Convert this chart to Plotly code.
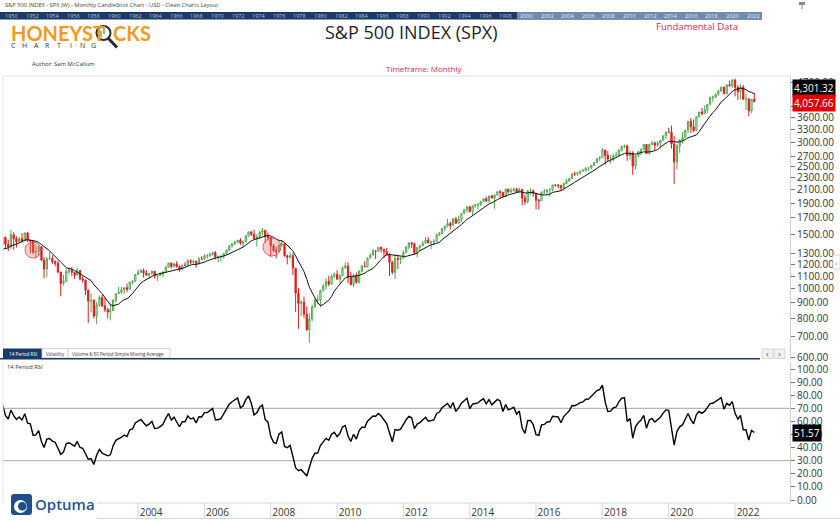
import pandas as pd
import plotly.graph_objects as go

W, H = 840, 522

# S&P 500 monthly closes, Jan 1997 - Aug 2022 (the months before Dec 1999 only warm up the MA / RSI)
close = [
    786.16, 790.82, 757.12, 801.34, 848.28, 885.14, 954.29, 899.47, 947.28, 914.62, 955.40, 970.43,  # 1997
    980.28, 1049.34, 1101.75, 1111.75, 1090.82, 1133.84, 1120.67, 957.28, 1017.01, 1098.67, 1163.63, 1229.23,  # 1998
    1279.64, 1238.33, 1286.37, 1335.18, 1301.84, 1372.71, 1328.72, 1320.41, 1282.71, 1362.93, 1388.91, 1469.25,  # 1999
    1394.46, 1366.42, 1498.58, 1452.43, 1420.60, 1454.60, 1430.83, 1517.68, 1436.51, 1429.40, 1314.95, 1320.28,  # 2000
    1366.01, 1239.94, 1160.33, 1249.46, 1255.82, 1224.42, 1211.23, 1133.58, 1040.94, 1059.78, 1139.45, 1148.08,  # 2001
    1130.20, 1106.73, 1147.39, 1076.92, 1067.14, 989.82, 911.62, 916.07, 815.28, 885.76, 936.31, 879.82,  # 2002
    855.70, 841.15, 848.18, 916.92, 963.59, 974.50, 990.31, 1008.01, 995.97, 1050.71, 1058.20, 1111.92,  # 2003
    1131.13, 1144.94, 1126.21, 1107.30, 1120.68, 1140.84, 1101.72, 1104.24, 1114.58, 1130.20, 1173.82, 1211.92,  # 2004
    1181.27, 1203.60, 1180.59, 1156.85, 1191.50, 1191.33, 1234.18, 1220.33, 1228.81, 1207.01, 1249.48, 1248.29,  # 2005
    1280.08, 1280.66, 1294.87, 1310.61, 1270.09, 1270.20, 1276.66, 1303.82, 1335.85, 1377.94, 1400.63, 1418.30,  # 2006
    1438.24, 1406.82, 1420.86, 1482.37, 1530.62, 1503.35, 1455.27, 1473.99, 1526.75, 1549.38, 1481.14, 1468.36,  # 2007
    1378.55, 1330.63, 1322.70, 1385.59, 1400.38, 1280.00, 1267.38, 1282.83, 1166.36, 968.75, 896.24, 903.25,  # 2008
    825.88, 735.09, 797.87, 872.81, 919.14, 919.32, 987.48, 1020.62, 1057.08, 1036.19, 1095.63, 1115.10,  # 2009
    1073.87, 1104.49, 1169.43, 1186.69, 1089.41, 1030.71, 1101.60, 1049.33, 1141.20, 1183.26, 1180.55, 1257.64,  # 2010
    1286.12, 1327.22, 1325.83, 1363.61, 1345.20, 1320.64, 1292.28, 1218.89, 1131.42, 1253.30, 1246.96, 1257.60,  # 2011
    1312.41, 1365.68, 1408.47, 1397.91, 1310.33, 1362.16, 1379.32, 1406.58, 1440.67, 1412.16, 1416.18, 1426.19,  # 2012
    1498.11, 1514.68, 1569.19, 1597.57, 1630.74, 1606.28, 1685.73, 1632.97, 1681.55, 1756.54, 1805.81, 1848.36,  # 2013
    1782.59, 1859.45, 1872.34, 1883.95, 1923.57, 1960.23, 1930.67, 2003.37, 1972.29, 2018.05, 2067.56, 2058.90,  # 2014
    1994.99, 2104.50, 2067.89, 2085.51, 2107.39, 2063.11, 2103.84, 1972.18, 1920.03, 2079.36, 2080.41, 2043.94,  # 2015
    1940.24, 1932.23, 2059.74, 2065.30, 2096.95, 2098.86, 2173.60, 2170.95, 2168.27, 2126.15, 2198.81, 2238.83,  # 2016
    2278.87, 2363.64, 2362.72, 2384.20, 2411.80, 2423.41, 2470.30, 2471.65, 2519.36, 2575.26, 2647.58, 2673.61,  # 2017
    2823.81, 2713.83, 2640.87, 2648.05, 2705.27, 2718.37, 2816.29, 2901.52, 2913.98, 2711.74, 2760.17, 2506.85,  # 2018
    2704.10, 2784.49, 2834.40, 2945.83, 2752.06, 2941.76, 2980.38, 2926.46, 2976.74, 3037.56, 3140.98, 3230.78,  # 2019
    3225.52, 2954.22, 2584.59, 2912.43, 3044.31, 3100.29, 3271.12, 3500.31, 3363.00, 3269.96, 3621.63, 3756.07,  # 2020
    3714.24, 3811.15, 3972.89, 4181.17, 4204.11, 4297.50, 4395.26, 4522.68, 4307.54, 4605.38, 4567.00, 4766.18,  # 2021
    4515.55, 4373.94, 4530.41, 4131.93, 4132.15, 3785.38, 4130.29, 4057.66,  # 2022
]

# monthly highs and lows, Dec 1999 - Aug 2022
high = [
    1473,
    1478, 1444, 1553, 1527, 1481, 1474, 1517, 1525, 1530, 1437, 1432, 1389,
    1384, 1376, 1267, 1269, 1316, 1287, 1237, 1234, 1134, 1110, 1163, 1175,
    1176, 1131, 1173, 1148, 1097, 1070, 993, 966, 925, 907, 952, 954,
    935, 865, 896, 926, 965, 1015, 1015, 1012, 1040, 1054, 1063, 1112,
    1156, 1159, 1163, 1150, 1128, 1146, 1141, 1110, 1132, 1143, 1188, 1217,
    1217, 1212, 1229, 1192, 1199, 1219, 1245, 1246, 1243, 1233, 1270, 1276,
    1295, 1297, 1310, 1318, 1326, 1284, 1281, 1306, 1340, 1389, 1407, 1432,
    1441, 1461, 1438, 1498, 1535, 1541, 1556, 1504, 1539, 1576, 1553, 1524,
    1471, 1396, 1366, 1397, 1440, 1405, 1292, 1314, 1305, 1167, 1007, 918,
    943, 876, 832, 888, 930, 956, 993, 1040, 1081, 1101, 1113, 1130,
    1150, 1112, 1181, 1220, 1219, 1132, 1121, 1129, 1149, 1196, 1228, 1263,
    1303, 1345, 1333, 1366, 1371, 1346, 1357, 1308, 1230, 1294, 1292, 1270,
    1334, 1378, 1419, 1422, 1415, 1363, 1392, 1427, 1475, 1471, 1434, 1448,
    1509, 1530, 1570, 1598, 1688, 1654, 1698, 1710, 1730, 1766, 1813, 1849,
    1851, 1867, 1884, 1897, 1924, 1968, 1992, 2005, 2019, 2019, 2076, 2094,
    2064, 2120, 2118, 2126, 2135, 2130, 2133, 2113, 2021, 2094, 2116, 2105,
    2045, 1962, 2073, 2111, 2100, 2121, 2178, 2194, 2188, 2169, 2214, 2278,
    2301, 2371, 2401, 2398, 2418, 2454, 2484, 2491, 2520, 2582, 2658, 2695,
    2873, 2835, 2801, 2718, 2742, 2791, 2848, 2917, 2941, 2940, 2815, 2800,
    2708, 2813, 2861, 2950, 2955, 2964, 3028, 3014, 3022, 3050, 3154, 3248,
    3338, 3394, 3136, 2955, 3068, 3233, 3280, 3515, 3588, 3550, 3646, 3760,
    3871, 3951, 3994, 4218, 4239, 4302, 4430, 4538, 4546, 4608, 4744, 4809,
    4819, 4595, 4637, 4594, 4307, 4178, 4141, 4325,
]
low = [
    1387,
    1350, 1325, 1346, 1339, 1361, 1415, 1413, 1429, 1419, 1305, 1296, 1254,
    1274, 1228, 1081, 1091, 1246, 1203, 1183, 1124, 945, 1026, 1054, 1114,
    1101, 1075, 1106, 1064, 1048, 953, 775, 837, 800, 768, 873, 872,
    840, 800, 789, 847, 902, 963, 962, 960, 975, 995, 1032, 1055,
    1106, 1124, 1087, 1107, 1076, 1113, 1079, 1060, 1099, 1090, 1128, 1173,
    1164, 1180, 1171, 1137, 1146, 1188, 1183, 1202, 1205, 1169, 1201, 1245,
    1245, 1253, 1268, 1280, 1245, 1219, 1224, 1253, 1290, 1327, 1360, 1385,
    1403, 1389, 1364, 1416, 1476, 1484, 1452, 1371, 1449, 1489, 1407, 1435,
    1270, 1317, 1257, 1315, 1373, 1272, 1200, 1248, 1107, 840, 741, 815,
    805, 731, 667, 784, 868, 889, 870, 979, 993, 1020, 1030, 1086,
    1071, 1045, 1101, 1160, 1040, 1028, 1011, 1040, 1040, 1131, 1173, 1173,
    1257, 1282, 1249, 1315, 1311, 1258, 1283, 1101, 1114, 1075, 1159, 1203,
    1257, 1310, 1341, 1358, 1291, 1267, 1326, 1378, 1397, 1403, 1343, 1385,
    1426, 1485, 1501, 1536, 1582, 1560, 1604, 1627, 1632, 1646, 1746, 1768,
    1770, 1737, 1834, 1815, 1859, 1915, 1916, 1905, 1964, 1821, 2001, 1973,
    1988, 1981, 2040, 2048, 2067, 2056, 2045, 1867, 1872, 1894, 2019, 1993,
    1812, 1810, 1931, 2034, 2025, 1992, 2075, 2147, 2120, 2084, 2084, 2187,
    2233, 2271, 2322, 2328, 2344, 2406, 2407, 2417, 2446, 2515, 2566, 2605,
    2672, 2533, 2586, 2553, 2595, 2699, 2699, 2796, 2864, 2604, 2631, 2347,
    2444, 2681, 2722, 2830, 2750, 2729, 2940, 2822, 2892, 2856, 3035, 3070,
    3215, 2855, 2192, 2447, 2767, 2966, 3095, 3206, 3210, 3234, 3265, 3615,
    3663, 3696, 3724, 3955, 4056, 4165, 4234, 4367, 4306, 4279, 4560, 4496,
    4223, 4115, 4129, 4125, 3811, 3637, 3722, 4057,
]

price_ticks = [600, 700, 800, 900, 1000, 1100, 1200, 1300, 1500, 1700, 1900, 2100,
               2300, 2500, 2700, 3000, 3300, 3600, 3900, 4700]
rsi_ticks = [0, 10, 20, 30, 40, 50, 60, 70, 80, 90, 100]
axis_years = [2004, 2006, 2008, 2010, 2012, 2014, 2016, 2018, 2020, 2022]
nav_years = list(range(1950, 2023, 2))
ma_label, rsi_label = "4,301.32", "51.57"

NAVY = "#1b3a68"
CRIMSON = "#d42a5b"
FONT = "Open Sans"


def px(x):
    return x / W


def py(y):
    return 1 - y / H


months = pd.date_range("1997-01-01", periods=len(close), freq="MS")
s = pd.Series(close, index=months)
ma10 = s.rolling(10).mean()
delta = s.diff()
gain = delta.clip(lower=0).ewm(alpha=1 / 14, adjust=False).mean()
loss = (-delta.clip(upper=0)).ewm(alpha=1 / 14, adjust=False).mean()
rsi = 100 - 100 / (1 + gain / loss)

vis = months >= pd.Timestamp("1999-12-01")
dates = months[vis]
opens = s.shift(1)[vis]
assert len(high) == len(low) == len(dates)

fig = go.Figure()

fig.add_trace(go.Candlestick(
    x=dates, open=opens, high=high, low=low, close=s[vis],
    increasing=dict(line=dict(color="#4fa84f", width=1), fillcolor="white"),
    decreasing=dict(line=dict(color="#e31b1b", width=1), fillcolor="#e31b1b"),
    whiskerwidth=0, showlegend=False, xaxis="x", yaxis="y",
))
fig.add_trace(go.Scatter(
    x=dates, y=ma10[vis], mode="lines", line=dict(color="#111", width=1),
    showlegend=False, xaxis="x", yaxis="y", hoverinfo="skip",
))
fig.add_trace(go.Scatter(
    x=dates, y=rsi[vis], mode="lines", line=dict(color="#000", width=1.4),
    showlegend=False, xaxis="x2", yaxis="y2",
))

shapes = []
ann = []


def rect(x0, y0, x1, y1, fill, line="rgba(0,0,0,0)", lw=0):
    shapes.append(dict(type="rect", xref="paper", yref="paper", x0=px(x0), x1=px(x1),
                       y0=py(y1), y1=py(y0), fillcolor=fill, line=dict(color=line, width=lw),
                       layer="above"))


def hline(x0, x1, y, color, lw=1):
    shapes.append(dict(type="line", xref="paper", yref="paper", x0=px(x0), x1=px(x1),
                       y0=py(y), y1=py(y), line=dict(color=color, width=lw), layer="above"))


def vline(x, y0, y1, color, lw=1):
    shapes.append(dict(type="line", xref="paper", yref="paper", x0=px(x), x1=px(x),
                       y0=py(y0), y1=py(y1), line=dict(color=color, width=lw), layer="above"))


def text(x, y, t, size, color="#333", anchor="left", bg=None, weight=None, family=FONT):
    a = dict(xref="paper", yref="paper", x=px(x), y=py(y), text=t, showarrow=False,
             xanchor=anchor, yanchor="middle",
             font=dict(size=size, color=color, family=family))
    if weight:
        a["font"]["weight"] = weight
    if bg:
        a["bgcolor"] = bg
        a["borderpad"] = 1
    ann.append(a)


# header line and year navigator
text(3, 5.5, "S&P 500 INDEX - SPX (W) - Monthly CandleStick Chart - USD - Clean Charts Layout", 5.7, "#444")
rect(0, 12, 762, 19.5, NAVY)
rect(517, 12, 762, 19.5, "#6f8bb0")
for yr in nav_years:
    xx = 3 + (yr - 1950) * 10.3
    text(xx, 15.8, str(yr), 5.5, "#e8edf4" if yr >= 2000 else "#b9c4d4")
rect(799, 2, 805, 5, "#888")
vline(802, 5, 9, "#888")

# logo
text(9, 33, "<b>HONEYST</b>", 20, "#f39a1e", family="Lato")
shapes.append(dict(type="circle", xref="paper", yref="paper", x0=px(96.5), x1=px(110.5),
                   y0=py(40), y1=py(26), line=dict(color="#2b2b2b", width=2), layer="above"))
shapes.append(dict(type="line", xref="paper", yref="paper", x0=px(108.5), x1=px(117),
                   y0=py(38.5), y1=py(47.5), line=dict(color="#2b2b2b", width=3), layer="above"))
vline(101, 31, 37, "#4fa84f", 1.5)
vline(104, 28, 34, "#4fa84f", 1.5)
text(111, 33, "<b>CKS</b>", 20, "#f39a1e", family="Lato")
for i, ch in enumerate("CHARTING"):
    text(13 + i * 11.5, 45, ch, 7, "#333", anchor="center")
text(30, 64, "Author: Sam McCallum", 5.9, "#333")

# titles
text(411, 32.5, "S&P 500 INDEX (SPX)", 18, "#1e1e1e", anchor="center")
text(697, 27, "Fundamental Data", 9.5, CRIMSON, anchor="center")
text(424, 68.5, "Timeframe: Monthly", 8, CRIMSON, anchor="center")

# pane frames
hline(3, 790, 76, "#e3e3e3")
vline(3, 76, 348, "#e3e3e3")
vline(3, 360, 503, "#e3e3e3")

# highlighted candles
for cx, cy, r in [(33, 250, 8), (272, 247, 9)]:
    shapes.append(dict(type="circle", xref="paper", yref="paper", x0=px(cx - r), x1=px(cx + r),
                       y0=py(cy + r), y1=py(cy - r), fillcolor="rgba(240,110,110,0.35)",
                       line=dict(color="rgba(220,70,70,0.8)", width=1), layer="above"))

# tabs between panes
rect(3, 348.5, 42, 358, NAVY)
rect(42, 348.5, 68, 358, "white", "#c8c8c8", 0.8)
rect(68, 348.5, 170, 358, "white", "#c8c8c8", 0.8)
hline(0, 760, 358.8, NAVY, 1.6)
text(22.5, 353.5, "14 Period RSI", 4.6, "white", anchor="center")
text(55, 353.5, "Volatility", 4.6, "#333", anchor="center")
text(118, 353.5, "Volume & 50 Period Simple Moving Average", 4.5, "#333", anchor="center")
rect(762, 349, 773, 358.5, "#f1f1f1", "#cfcfcf", 0.8)
rect(774, 349, 785, 358.5, "#f1f1f1", "#cfcfcf", 0.8)
text(767.5, 353.5, "‹", 9, "#555", anchor="center")
text(779.5, 353.5, "›", 9, "#555", anchor="center")
rect(833, 255, 840, 269, "white", "#cfcfcf", 0.8)
text(836.5, 262, "‹", 8, "#777", anchor="center")
text(5, 367.5, "14 Period RSI", 5.8, "#333")

# RSI guide lines
for lvl in (70, 30):
    shapes.append(dict(type="line", xref="paper", yref="y2", x0=px(3), x1=px(790), y0=lvl, y1=lvl,
                       line=dict(color="#a6a6a6", width=1), layer="below"))

# value boxes
text(792, 88, ma_label, 10, "white", bg="#000")
text(792, 103, f"{close[-1]:,.2f}", 10, "white", bg="#e00000")
text(792, 433, rsi_label, 10, "white", bg="#000")

# date band
hline(97, 790, 503, "#d6d6d6")
hline(97, 840, 518.5, "#d6d6d6")
for yr in axis_years:
    shapes.append(dict(type="line", xref="x2", yref="paper", x0=f"{yr}-01-01", x1=f"{yr}-01-01",
                       y0=py(503), y1=py(518.5), line=dict(color="#d6d6d6", width=1), layer="above"))

# Optuma logo
shapes.append(dict(type="path", xref="paper", yref="paper",
                   path=f"M {px(14)},{py(494)} L {px(29)},{py(494)} Q {px(32)},{py(494)} {px(32)},{py(497)} "
                        f"L {px(32)},{py(512)} Q {px(32)},{py(515)} {px(29)},{py(515)} L {px(14)},{py(515)} "
                        f"Q {px(11)},{py(515)} {px(11)},{py(512)} L {px(11)},{py(497)} Q {px(11)},{py(494)} {px(14)},{py(494)} Z",
                   fillcolor="#1f4e8c", line=dict(width=0), layer="above"))
shapes.append(dict(type="circle", xref="paper", yref="paper", x0=px(14), x1=px(27), y0=py(513), y1=py(500),
                   fillcolor="white", line=dict(width=0), layer="above"))
shapes.append(dict(type="circle", xref="paper", yref="paper", x0=px(18), x1=px(26.5), y0=py(510.5), y1=py(502),
                   fillcolor="#1f4e8c", line=dict(width=0), layer="above"))
text(33, 504, "Optuma", 15, "#1f5394", weight=600)

x_range = ["1999-12-05", "2023-08-29"]
axis_font = dict(size=10, color="#333", family=FONT)

fig.update_layout(
    width=W, height=H, template="none",
    margin=dict(l=0, r=0, t=0, b=0),
    paper_bgcolor="white", plot_bgcolor="white",
    font=dict(family=FONT),
    showlegend=False,
    hovermode=False,
    xaxis=dict(domain=[px(3), px(790)], range=x_range, type="date", anchor="y",
               showticklabels=False, showgrid=False, zeroline=False, showline=False,
               ticks="", rangeslider=dict(visible=False), automargin=False),
    xaxis2=dict(domain=[px(3), px(790)], matches="x", type="date", anchor="y2",
                tickvals=[f"{y}-01-01" for y in axis_years], ticktext=[str(y) for y in axis_years],
                ticks="", ticklabelshift=13, ticklabelstandoff=2, tickfont=axis_font,
                showgrid=False, zeroline=False, showline=False, automargin=False),
    yaxis=dict(domain=[py(360), py(76)], type="log", range=[2.7684, 3.6917], side="right",
               anchor="x", tickvals=price_ticks, tickformat=".2f", ticks="outside", ticklen=4,
               tickcolor="#777", showline=True, linecolor="#cfcfcf", tickfont=axis_font,
               showgrid=False, zeroline=False, automargin=False),
    yaxis2=dict(domain=[py(503), py(362)], range=[-2.29, 105.34], side="right", anchor="x2",
                tickvals=rsi_ticks, tickformat=".2f", ticks="outside", ticklen=4,
                tickcolor="#777", showline=True, linecolor="#cfcfcf", tickfont=axis_font,
                showgrid=False, zeroline=False, automargin=False),
    shapes=shapes,
    annotations=ann,
)

fig.write_html("out.html", config={"displayModeBar": False},
               post_script="document.body.style.margin='0px';")
